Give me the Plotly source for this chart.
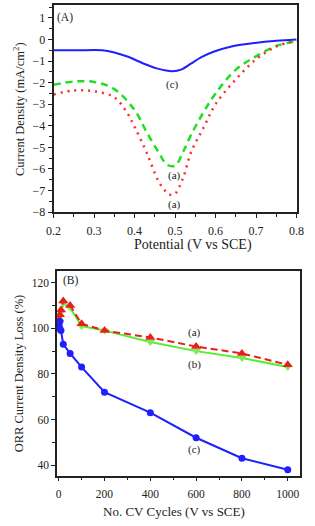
import plotly.graph_objects as go

# ---------------- Panel A data ----------------
pot_a = [0.20, 0.25, 0.30, 0.35, 0.40, 0.43, 0.46, 0.48, 0.50, 0.52, 0.54, 0.57, 0.60, 0.65, 0.70, 0.75, 0.80]
cur_green = [-2.1, -1.95, -1.97, -2.3, -3.27, -4.3, -5.25, -5.8, -5.85, -5.2, -4.4, -3.38, -2.5, -1.4, -0.78, -0.3, -0.08]
pot_r = [0.20, 0.25, 0.30, 0.35, 0.38, 0.40, 0.43, 0.46, 0.48, 0.49, 0.50, 0.52, 0.54, 0.57, 0.60, 0.65, 0.70, 0.75, 0.80]
cur_red = [-2.55, -2.36, -2.4, -2.68, -3.35, -4.05, -5.25, -6.6, -7.1, -7.2, -7.15, -6.4, -5.2, -4.1, -3.0, -1.85, -0.92, -0.33, -0.05]
pot_b = [0.20, 0.26, 0.32, 0.35, 0.384, 0.42, 0.455, 0.494, 0.515, 0.54, 0.565, 0.595, 0.642, 0.697, 0.751, 0.80]
cur_blue = [-0.5, -0.5, -0.5, -0.6, -0.8, -1.1, -1.34, -1.47, -1.4, -1.11, -0.82, -0.57, -0.31, -0.16, -0.06, 0.0]

# ---------------- Panel B data ----------------
cycles = [0, 2, 5, 10, 20, 50, 100, 200, 400, 600, 800, 1000]
loss_a = [101, 104, 106, 108, 112, 110, 102, 99, 96, 92, 89, 84]
loss_b = [100, 103, 105, 107, 111, 109, 101, 99, 94, 90, 87, 83]
loss_c = [100, 101, 103, 99, 93, 89, 83, 72, 63, 52, 43, 38]

W, H = 315, 526
FONT = "Liberation Serif"

def px_x(p):
    return p / W

def px_y(p):
    return 1 - p / H

fig = go.Figure()

# Panel A traces
fig.add_trace(go.Scatter(x=pot_b, y=cur_blue, mode="lines", line=dict(color="#1f1fff", width=2, shape="spline", smoothing=0.8),
                         xaxis="x", yaxis="y", showlegend=False))
fig.add_trace(go.Scatter(x=pot_a, y=cur_green, mode="lines", line=dict(color="#22dd22", width=2.5, dash="7px,5px", shape="spline"),
                         xaxis="x", yaxis="y", showlegend=False))
fig.add_trace(go.Scatter(x=pot_r, y=cur_red, mode="lines", line=dict(color="#ff2a2a", width=2.5, dash="2px,5px", shape="spline"),
                         xaxis="x", yaxis="y", showlegend=False))

# Panel B traces
fig.add_trace(go.Scatter(x=cycles, y=loss_b, mode="lines+markers",
                         line=dict(color="#55ee33", width=2),
                         marker=dict(symbol="triangle-down", size=8, color="#77ee55"),
                         xaxis="x2", yaxis="y2", showlegend=False))
fig.add_trace(go.Scatter(x=cycles, y=loss_a, mode="lines+markers",
                         line=dict(color="#e8201c", width=2, dash="7px,4px"),
                         marker=dict(symbol="triangle-up", size=9, color="#e8201c"),
                         xaxis="x2", yaxis="y2", showlegend=False))
fig.add_trace(go.Scatter(x=cycles, y=loss_c, mode="lines+markers",
                         line=dict(color="#1f1fff", width=2),
                         marker=dict(symbol="circle", size=7, color="#1f1fff"),
                         xaxis="x2", yaxis="y2", showlegend=False))

axis_common = dict(showline=True, linecolor="#222", linewidth=1.6, mirror=True, ticks="outside",
                   ticklen=4, tickwidth=1.3, tickcolor="#222", showgrid=False, zeroline=False,
                   tickfont=dict(family=FONT, size=12, color="#222"))

fig.update_layout(
    width=W, height=H, margin=dict(l=0, r=0, t=0, b=0),
    paper_bgcolor="white", plot_bgcolor="white",
    xaxis=dict(domain=[px_x(48), px_x(304)], anchor="y", range=[0.2, 0.8], tickvals=[0.2, 0.3, 0.4, 0.5, 0.6, 0.7, 0.8],
               ticktext=["0.2", "0.3", "0.4", "0.5", "0.6", "0.7", "0.8"], ticklabelstandoff=3,
               minor=dict(dtick=0.05, ticks="outside", ticklen=3, tickcolor="#222", tickwidth=1.2),
               **axis_common),
    yaxis=dict(domain=[px_y(215), px_y(5)], anchor="x", range=[-8, 1.6], tickvals=list(range(-8, 2)),
               minor=dict(dtick=0.5, ticks="outside", ticklen=3, tickcolor="#222", tickwidth=1.2),
               **axis_common),
    xaxis2=dict(domain=[px_x(51.7), px_x(308)], anchor="y2", range=[-7, 1055], tickvals=[0, 200, 400, 600, 800, 1000],
                ticklabelstandoff=3,
                minor=dict(dtick=100, ticks="outside", ticklen=3, tickcolor="#222", tickwidth=1.2),
                **{**axis_common, "tickfont": dict(family=FONT, size=11.5, color="#222")}),
    yaxis2=dict(domain=[px_y(482), px_y(275)], anchor="x2", range=[35.4, 125], tickvals=[40, 60, 80, 100, 120],
                minor=dict(dtick=10, ticks="outside", ticklen=3, tickcolor="#222", tickwidth=1.2),
                **{**axis_common, "tickfont": dict(family=FONT, size=11.5, color="#222")}),
)

def ann(x, y, text, size=11, xref="x", yref="y", **kw):
    fig.add_annotation(x=x, y=y, text=text, xref=xref, yref=yref, showarrow=False,
                       xanchor="center", yanchor="middle",
                       font=dict(family=FONT, size=size, color="#222"), **kw)

# Panel A labels
ann(0.228, 1.0, "(A)", size=11.5)
ann(0.493, -2.1, "(c)")
ann(0.498, -6.3, "(a)")
ann(0.498, -7.65, "(a)")
# Panel B labels
ann(52, 120.8, "(B)", size=11.5, xref="x2", yref="y2")
ann(591, 98.3, "(a)", xref="x2", yref="y2")
ann(591, 84, "(b)", xref="x2", yref="y2")
ann(591, 46.7, "(c)", xref="x2", yref="y2")

# Axis titles
ann(px_x(195), px_y(248), "Potential (V vs SCE)", size=14, xref="paper", yref="paper")
ann(px_x(11), px_y(110), "Current Density (mA/cm<sup>2</sup>)", size=12.5, xref="paper", yref="paper", textangle=-90)
ann(px_x(175), px_y(518), "No. CV Cycles (V vs SCE)", size=13, xref="paper", yref="paper")
ann(px_x(12), px_y(378), "ORR Current Density Loss (%)", size=12.5, xref="paper", yref="paper", textangle=-90)

fig.write_html("out.html")
